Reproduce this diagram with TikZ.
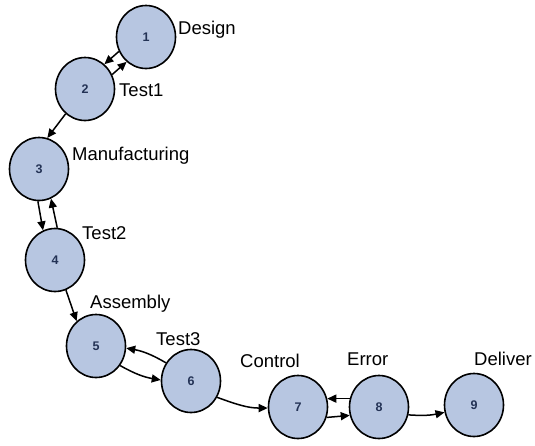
\documentclass[tikz,border=0pt]{standalone}
\usepackage{fontspec}
\setmainfont{Liberation Sans}
\usetikzlibrary{arrows.meta,shapes.geometric}
\definecolor{stagefill}{RGB}{183,198,225}
\definecolor{stagenum}{RGB}{35,50,85}
\begin{document}
\begin{tikzpicture}[x=1pt,y=-1pt,
  stage/.style={ellipse,draw=black,line width=1.6pt,fill=stagefill,minimum width=59pt,
    minimum height=63pt,inner sep=0pt,font=\fontsize{12.5}{14}\selectfont\bfseries,text=stagenum},
  tag/.style={anchor=base west,inner sep=0pt,font=\fontsize{18.5}{20}\selectfont},
  flow/.style={line width=1.5pt,-{Triangle[length=9pt,width=8pt]}}]
\useasboundingbox (0,0) rectangle (535,445);

% process stages
\node[stage] (n1) at (146,37)  {1};
\node[stage] (n2) at (85,89)   {2};
\node[stage] (n3) at (39,169)  {3};
\node[stage] (n4) at (55,260)  {4};
\node[stage] (n5) at (96,346)  {5};
\node[stage] (n6) at (191,381) {6};
\node[stage] (n7) at (298,407) {7};
\node[stage] (n8) at (379,407) {8};
\node[stage] (n9) at (474,405) {9};

% stage names
\node[tag] (l1) at (178,34)  {Design};
\node[tag] (l2) at (119,96)  {Test1};
\node[tag] (l3) at (72,160)  {Manufacturing};
\node[tag] (l4) at (82,239)  {Test2};
\node[tag] (l5) at (90,308)  {Assembly};
\node[tag] (l6) at (156,345) {Test3};
\node[tag] (l7) at (240,367) {Control};
\node[tag] (l8) at (347,365) {Error};
\node[tag] (l9) at (474,365) {Deliver};

% transitions
\draw[flow] (n1.208) -- (n2.52);
\draw[flow] (n2.28) -- (n1.232);
\draw[flow] (n2.232) -- (n3.75);
\draw[flow] (n3.268) -- (n4.112);
\draw[flow] (n4.86) -- (n3.292);
\draw[flow] (n4.290) -- (n5.128);
\draw[flow] (n6.144) to[bend right=10] (n5.356);
\draw[flow] (n5.321) to[bend right=10] (n6.178);
\draw[flow] (n6.328) to[out=-20,in=180] (n7.182);
\draw[flow] (n8.164) -- (n7.16);
\draw[flow] (n7.340) -- (n8.196);
\draw[flow] (n8.345) to[bend right=8] (n9.194);
\end{tikzpicture}
\end{document}
